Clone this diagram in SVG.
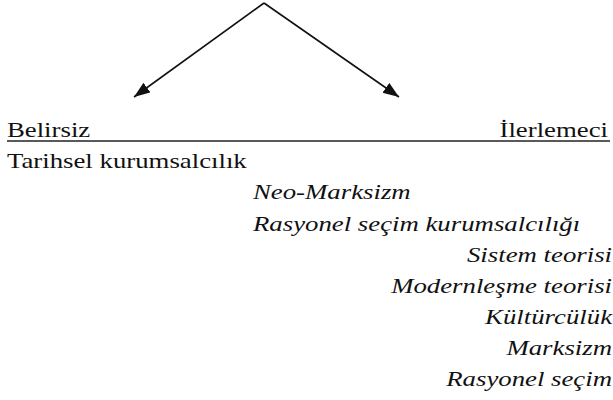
<svg xmlns="http://www.w3.org/2000/svg" width="613" height="400" viewBox="0 0 613 400">
  <defs>
    <marker id="ah" markerUnits="userSpaceOnUse" markerWidth="17" markerHeight="13" refX="16" refY="6" orient="auto">
      <path d="M0,0 L16,6 L0,12 z" fill="#111"/>
    </marker>
  </defs>
  <rect width="613" height="400" fill="#fff"/>
  <g id="connectors" stroke="#111" stroke-width="1.6" fill="none">
    <line x1="264" y1="3" x2="134" y2="97" marker-end="url(#ah)"/>
    <line x1="264" y1="3" x2="399" y2="97" marker-end="url(#ah)"/>
    <line x1="7" y1="141" x2="610" y2="141" stroke="#222"/>
  </g>
  <g id="belirsiz"><text transform="scale(1.218 1)" x="5.7" y="137" font-size="22" font-family="'Liberation Serif'" fill="#111">Belirsiz</text></g>
  <g id="ilerlemeci"><text transform="scale(1.218 1)" x="499.2" y="137" font-size="22" font-family="'Liberation Serif'" fill="#111" text-anchor="end">İlerlemeci</text></g>
  <g id="tarihsel"><text transform="scale(1.218 1)" x="5.7" y="168" font-size="22" font-family="'Liberation Serif'" fill="#111">Tarihsel kurumsalcılık</text></g>
  <g id="neo-marksizm"><text transform="scale(1.218 1)" x="207.7" y="199" font-size="22" font-family="'Liberation Serif'" font-style="italic" fill="#111">Neo-Marksizm</text></g>
  <g id="rasyonel-kurumsal"><text transform="scale(1.218 1)" x="207.7" y="231" font-size="22" font-family="'Liberation Serif'" font-style="italic" fill="#111">Rasyonel seçim kurumsalcılığı</text></g>
  <g id="sistem"><text transform="scale(1.218 1)" x="502.5" y="262" font-size="22" font-family="'Liberation Serif'" font-style="italic" fill="#111" text-anchor="end">Sistem teorisi</text></g>
  <g id="modernlesme"><text transform="scale(1.218 1)" x="502.5" y="293" font-size="22" font-family="'Liberation Serif'" font-style="italic" fill="#111" text-anchor="end">Modernleşme teorisi</text></g>
  <g id="kulturculuk"><text transform="scale(1.218 1)" x="502.5" y="324" font-size="22" font-family="'Liberation Serif'" font-style="italic" fill="#111" text-anchor="end">Kültürcülük</text></g>
  <g id="marksizm"><text transform="scale(1.218 1)" x="502.5" y="355" font-size="22" font-family="'Liberation Serif'" font-style="italic" fill="#111" text-anchor="end">Marksizm</text></g>
  <g id="rasyonel-secim"><text transform="scale(1.218 1)" x="502.5" y="386" font-size="22" font-family="'Liberation Serif'" font-style="italic" fill="#111" text-anchor="end">Rasyonel seçim</text></g>
</svg>
